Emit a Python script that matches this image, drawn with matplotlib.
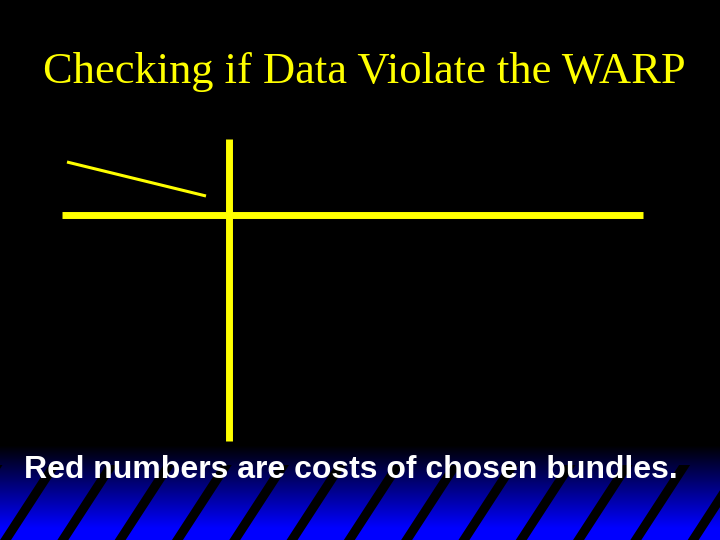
import matplotlib.pyplot as plt
import numpy as np
from matplotlib.patches import Polygon

W, H = 720, 540

# slide content (pixel coordinates of the diagram, y down)
title = "Checking if Data Violate the WARP"
caption = "Red numbers are costs of chosen bundles."
vert_axis_x = [228.5, 228.5]
vert_axis_y = [139, 441]
horiz_axis_x = [62, 643]
horiz_axis_y = [215, 215]
budget_x = [67, 206]
budget_y = [162, 196]

# decorative band at the bottom
band_top, band_full = 445, 528
stripe_x0, stripe_step, stripe_n = 14, 57.3, 14
stripe_ref_y, stripe_slope, stripe_w = 527, 0.65, 11
stripe_top = 465

fig = plt.figure(figsize=(7.2, 5.4), dpi=100, facecolor="black")
ax = fig.add_axes([0, 0, 1, 1])
ax.set_xlim(0, W)
ax.set_ylim(H, 0)
ax.axis("off")
ax.set_facecolor("black")

# black -> blue gradient
ys = np.linspace(band_top, H, 200)
t = np.clip((ys - band_top) / (band_full - band_top), 0, 1)
grad = np.zeros((len(ys), 2, 3))
grad[:, :, 2] = t[:, None]
ax.imshow(grad, extent=[0, W, H, band_top], aspect="auto", zorder=0,
          interpolation="bilinear")

# slanted black stripes
for i in range(-1, stripe_n):
    xc = stripe_x0 + i * stripe_step
    def xat(y, off):
        return xc + off + (stripe_ref_y - y) * stripe_slope
    pts = [(xat(stripe_top, -stripe_w / 2), stripe_top),
           (xat(stripe_top, stripe_w / 2), stripe_top),
           (xat(H, stripe_w / 2), H),
           (xat(H, -stripe_w / 2), H)]
    ax.add_patch(Polygon(pts, closed=True, color="black", lw=0, zorder=1))

yel = "#ffff00"
ax.plot(vert_axis_x, vert_axis_y, color=yel, lw=5.0, solid_capstyle="butt", zorder=3)
ax.plot(horiz_axis_x, horiz_axis_y, color=yel, lw=5.0, solid_capstyle="butt", zorder=3)
ax.plot(budget_x, budget_y, color=yel, lw=2.2, solid_capstyle="butt", zorder=3)

ax.text(364, 83, title, color=yel, fontsize=32, family="Liberation Serif",
        ha="center", va="baseline", zorder=4)
ax.text(351, 478, caption, color="white", fontsize=23, family="Liberation Sans",
        weight="bold", ha="center", va="baseline", zorder=4)

fig.savefig("out.png", dpi=100, facecolor="black")
